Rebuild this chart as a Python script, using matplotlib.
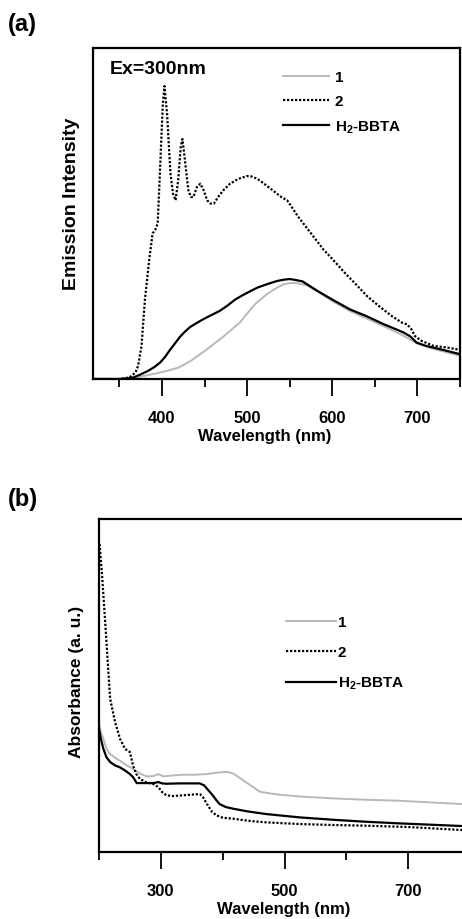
import matplotlib
matplotlib.use("Agg")
import matplotlib.pyplot as plt
from matplotlib.ticker import MultipleLocator

plt.rcParams["font.family"] = ["Liberation Sans", "DejaVu Sans"]
plt.rcParams["font.weight"] = "bold"
plt.rcParams["mathtext.default"] = "regular"

GRAY = "#b8b8b8"

# (a) emission spectra, Ex = 300 nm
em_wl_1 = [320, 360, 367, 380, 395, 408, 420, 434, 453, 473, 492, 500, 510, 524, 535, 543,
           550, 558, 570, 582, 600, 621, 640, 660, 684, 699, 720, 750]
em_1 = [0, 0, 0.003, 0.01, 0.018, 0.026, 0.035, 0.055, 0.09, 0.13, 0.172, 0.198, 0.228,
        0.258, 0.276, 0.286, 0.29, 0.29, 0.283, 0.265, 0.235, 0.205, 0.183, 0.16, 0.13,
        0.108, 0.09, 0.07]

em_wl_2 = [320, 350, 362, 369, 372, 376, 380, 385, 389, 392, 395, 398, 401, 403, 406, 410,
           413, 416, 419, 422, 424, 427, 431, 434, 437, 441, 445, 449, 453, 457, 461, 466,
           472, 480, 490, 500, 505, 512, 520, 530, 540, 547, 560, 575, 590, 601, 615, 630,
           641, 655, 670, 682, 688, 693, 697, 705, 719, 735, 750]
em_2 = [0, 0, 0.005, 0.02, 0.04, 0.10, 0.24, 0.36, 0.44, 0.45, 0.47, 0.65, 0.83, 0.885, 0.80,
        0.62, 0.56, 0.54, 0.60, 0.70, 0.725, 0.66, 0.57, 0.55, 0.55, 0.58, 0.59, 0.57, 0.54,
        0.53, 0.53, 0.55, 0.57, 0.59, 0.605, 0.613, 0.612, 0.605, 0.59, 0.57, 0.55, 0.54,
        0.49, 0.44, 0.39, 0.36, 0.32, 0.28, 0.25, 0.22, 0.19, 0.17, 0.165, 0.15, 0.13, 0.115,
        0.10, 0.095, 0.088]

em_wl_h = [320, 350, 360, 367, 375, 384, 391, 398, 404, 410, 416, 421, 427, 433, 440, 448,
           458, 468, 477, 486, 494, 502, 512, 524, 535, 543, 550, 555, 565, 582, 600, 621,
           640, 660, 675, 684, 692, 699, 710, 730, 750]
em_h = [0, 0, 0.002, 0.005, 0.014, 0.025, 0.036, 0.05, 0.068, 0.09, 0.11, 0.127, 0.143,
        0.157, 0.168, 0.18, 0.193, 0.206, 0.222, 0.24, 0.252, 0.263, 0.276, 0.287, 0.296,
        0.30, 0.302, 0.30, 0.295, 0.267, 0.24, 0.21, 0.19, 0.166, 0.15, 0.14, 0.128, 0.11,
        0.10, 0.088, 0.075]

# (b) absorbance spectra
ab_wl_1 = [200, 203, 207, 212, 218, 226, 234, 245, 255, 266, 277, 288, 296, 304, 320, 336,
           355, 374, 390, 406, 417, 428, 438, 450, 460, 480, 497, 530, 578, 630, 685, 787]
ab_1 = [0.385, 0.36, 0.34, 0.31, 0.294, 0.283, 0.274, 0.26, 0.249, 0.236, 0.227, 0.228,
        0.234, 0.227, 0.23, 0.232, 0.232, 0.234, 0.238, 0.241, 0.236, 0.222, 0.209, 0.194,
        0.181, 0.175, 0.171, 0.166, 0.161, 0.157, 0.154, 0.144]

ab_wl_2 = [201, 205, 210, 218, 226, 234, 242, 250, 255, 260, 266, 275, 288, 296, 302, 309,
           320, 341, 363, 368, 376, 383, 390, 400, 417, 440, 470, 524, 580, 632, 700, 787]
ab_2 = [0.925, 0.83, 0.69, 0.46, 0.39, 0.34, 0.31, 0.30, 0.26, 0.235, 0.22, 0.21, 0.204,
        0.195, 0.18, 0.17, 0.168, 0.171, 0.174, 0.165, 0.14, 0.12, 0.11, 0.103, 0.10, 0.094,
        0.089, 0.084, 0.081, 0.079, 0.075, 0.066]

ab_wl_h = [200, 203, 207, 212, 218, 226, 234, 242, 250, 255, 261, 270, 288, 296, 302, 309,
           330, 363, 370, 377, 384, 390, 395, 405, 417, 440, 470, 524, 577, 630, 685, 787]
ab_h = [0.37, 0.34, 0.31, 0.285, 0.27, 0.26, 0.254, 0.245, 0.234, 0.225, 0.207, 0.207,
        0.207, 0.21, 0.206, 0.205, 0.206, 0.206, 0.2, 0.185, 0.17, 0.155, 0.144, 0.135, 0.13,
        0.122, 0.114, 0.104, 0.097, 0.091, 0.086, 0.078]

labels = ["1", "2", "H$_2$-BBTA"]

fig = plt.figure(figsize=(4.62, 9.2), dpi=100)
ax_a = fig.add_axes([93 / 462, 1 - 380 / 920, (460 - 93) / 462, (380 - 49) / 920])
ax_b = fig.add_axes([99 / 462, 1 - 853 / 920, (462 - 99) / 462, (853 - 520) / 920])

dotted = (0, (1, 0.8))
for ax in (ax_a, ax_b):
    for s in ax.spines.values():
        s.set_linewidth(1.6)
    ax.set_yticks([])
    ax.set_ylim(0, 1)
    ax.tick_params(axis="x", which="major", direction="out", length=12.5, width=1.3,
                   pad=10, labelsize=12)
    ax.tick_params(axis="x", which="minor", direction="out", length=6, width=1.3)

# panel (a)
ax_a.plot(em_wl_1, em_1, color=GRAY, lw=1.4, label=labels[0])
ax_a.plot(em_wl_2, em_2, color="black", lw=1.6, ls=dotted, label=labels[1])
ax_a.plot(em_wl_h, em_h, color="black", lw=1.6, label=labels[2])
ax_a.set_xlim(319, 750)
ax_a.xaxis.set_major_locator(MultipleLocator(100))
ax_a.xaxis.set_minor_locator(MultipleLocator(50))
ax_a.text((110 - 93) / 367, (380 - 69) / 331, "Ex=300nm", fontsize=14, va="center",
          transform=ax_a.transAxes)
ax_a.legend(loc="upper left", bbox_to_anchor=((283 - 93) / 367, (380 - 71) / 331),
            frameon=False, fontsize=11, handlelength=3.0, handletextpad=0.4,
            labelspacing=0.68, borderpad=0, borderaxespad=0)

# panel (b)
ax_b.plot(ab_wl_1, ab_1, color=GRAY, lw=1.4, label=labels[0])
ax_b.plot(ab_wl_2, ab_2, color="black", lw=1.6, ls=dotted, label=labels[1])
ax_b.plot(ab_wl_h, ab_h, color="black", lw=1.6, label=labels[2])
ax_b.spines["right"].set_visible(False)
ax_b.set_xlim(200, 787)
ax_b.set_xticks([300, 500, 700])
ax_b.set_xticks([200, 400, 600], minor=True)
ax_b.legend(loc="upper left", bbox_to_anchor=((286 - 99) / 363, (853 - 616) / 333),
            frameon=False, fontsize=11, handlelength=3.3, handletextpad=0.1,
            labelspacing=1.05, borderpad=0, borderaxespad=0)

fig.text(8 / 462, 1 - 25 / 920, "(a)", fontsize=17, va="center")
fig.text(8 / 462, 1 - 500 / 920, "(b)", fontsize=17, va="center")
fig.text(72 / 462, 1 - 204 / 920, "Emission Intensity", fontsize=14, rotation=90,
         ha="center", va="center")
fig.text(76 / 462, 1 - 682 / 920, "Absorbance (a. u.)", fontsize=12.5, rotation=90,
         ha="center", va="center")
fig.text(265 / 462, 1 - 437 / 920, "Wavelength (nm)", fontsize=12, ha="center", va="center")
fig.text(284 / 462, 1 - 910 / 920, "Wavelength (nm)", fontsize=12, ha="center", va="center")

fig.savefig("out.png", dpi=100)
